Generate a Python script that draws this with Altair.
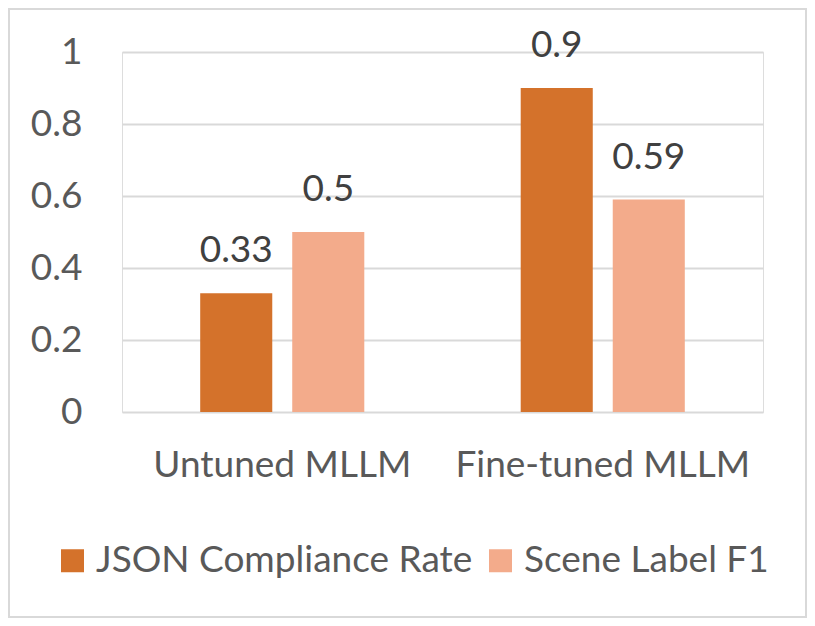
import altair as alt
import pandas as pd

categories = ["Untuned MLLM", "Fine-tuned MLLM"]
series = ["JSON Compliance Rate", "Scene Label F1"]
json_rate = [0.33, 0.9]
scene_f1 = [0.5, 0.59]
colors = ["#D4722B", "#F3AB8B"]
y_ticks = [0, 0.2, 0.4, 0.6, 0.8, 1]

rows = []
for i, c in enumerate(categories):
    rows.append({"category": c, "series": series[0], "value": json_rate[i]})
    rows.append({"category": c, "series": series[1], "value": scene_f1[i]})
df = pd.DataFrame(rows)

FONT = "Lato"
TXT = "#595959"
FS = 37

x_enc = alt.X(
    "category:N",
    sort=categories,
    scale=alt.Scale(paddingInner=0.488, paddingOuter=0.244),
    axis=alt.Axis(title=None, labelAngle=0, ticks=False, domain=False, grid=False,
                  labelFontSize=FS, labelColor=TXT, labelFont=FONT, labelPadding=35,
                  labelLimit=0),
)
xo_enc = alt.XOffset("series:N", sort=series,
                     scale=alt.Scale(paddingInner=0.217, paddingOuter=0))
y_enc = alt.Y(
    "value:Q",
    scale=alt.Scale(domain=[0, 1], nice=False),
    axis=alt.Axis(title=None, values=y_ticks, format="~g", ticks=False, domain=False,
                  grid=True, gridColor="#D9D9D9", gridWidth=2,
                  labelFontSize=FS, labelColor=TXT, labelFont=FONT, labelPadding=40),
)

bars = alt.Chart(df).mark_bar().encode(
    x=x_enc,
    xOffset=xo_enc,
    y=y_enc,
    color=alt.Color(
        "series:N",
        sort=series,
        scale=alt.Scale(domain=series, range=colors),
        legend=alt.Legend(
            title=None, orient="none", direction="horizontal",
            legendX=-68, legendY=490, padding=0,
            symbolType="square", symbolSize=529, symbolStrokeWidth=0,
            labelFontSize=FS, labelColor=TXT, labelFont=FONT, labelLimit=0,
            labelOffset=5, columnPadding=9,
        ),
    ),
)

labels = alt.Chart(df).mark_text(
    baseline="alphabetic", dy=-31, fontSize=FS, color="#404040", font=FONT
).encode(
    x=alt.X("category:N", sort=categories),
    xOffset=alt.XOffset("series:N", sort=series),
    y="value:Q",
    text=alt.Text("value:Q", format=".2~f"),
)

border = alt.Chart(pd.DataFrame({"a": [0]})).mark_rect(
    fill=None, stroke="#D9D9D9", strokeWidth=2, clip=False
).encode(
    x=alt.value(-113), x2=alt.value(684), y=alt.value(-43), y2=alt.value(565)
)

chart = alt.layer(border, bars, labels).properties(
    width=641, height=360,
    autosize=alt.AutoSizeParams(type="none"),
    padding={"left": 114, "top": 44, "right": 44, "bottom": 206},
).configure_view(stroke=None).configure(font=FONT)

chart.save("out.html", embed_options={"renderer": "svg", "actions": False})
